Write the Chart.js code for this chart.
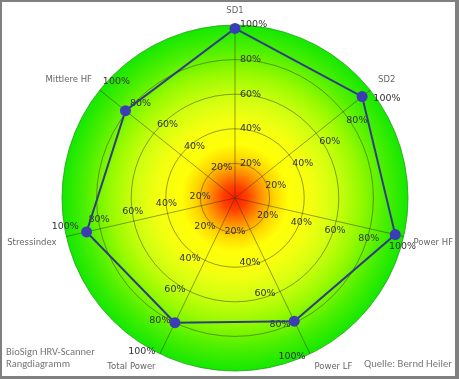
<!DOCTYPE html>
<html><head><meta charset="utf-8">
<script src="https://cdn.jsdelivr.net/npm/chart.js@4/dist/chart.umd.min.js"></script>
<style>
html,body{margin:0;padding:0;background:#fff;}
#wrap{position:relative;width:459px;height:379px;overflow:hidden;}
#frame{position:absolute;left:0;top:0;width:459px;height:379px;box-sizing:border-box;border-style:solid;border-color:#808080;border-width:2px 4px 3px 2px;pointer-events:none;}
canvas{display:block;}
</style></head><body>
<div id="wrap"><canvas id="c" width="459" height="379"></canvas><div id="frame"></div></div>
<script>
const categories = ['SD1', 'SD2', 'Power HF', 'Power LF', 'Total Power', 'Stressindex', 'Mittlere HF'];
const values = [98, 94, 95, 79, 80, 88, 81];
const tickValues = [20, 40, 60, 80, 100];
const tickLabels = ['20%', '40%', '60%', '80%', '100%'];
const footerLeft = ['BioSign HRV-Scanner', 'Rangdiagramm'];
const footerRight = 'Quelle: Bernd Heiler';

const bgPlugin = {
  id: 'bg',
  beforeDraw(chart) {
    const s = chart.scales.r, ctx = chart.ctx;
    const g = ctx.createRadialGradient(s.xCenter, s.yCenter, 0, s.xCenter, s.yCenter, s.drawingArea);
    g.addColorStop(0.00, '#ff1800');
    g.addColorStop(0.07, '#ff4000');
    g.addColorStop(0.15, '#ff9000');
    g.addColorStop(0.23, '#ffd800');
    g.addColorStop(0.31, '#ffff08');
    g.addColorStop(0.45, '#f4ff10');
    g.addColorStop(0.58, '#d0ff10');
    g.addColorStop(0.72, '#98fa00');
    g.addColorStop(0.86, '#50f000');
    g.addColorStop(1.00, '#14e800');
    ctx.save();
    ctx.beginPath();
    ctx.arc(s.xCenter, s.yCenter, s.drawingArea, 0, Math.PI * 2);
    ctx.fillStyle = g;
    ctx.fill();
    ctx.restore();
  }
};

const tickPlugin = {
  id: 'tickLabels',
  beforeDatasetsDraw(chart) {
    const s = chart.scales.r, ctx = chart.ctx;
    ctx.save();
    ctx.font = '9.5px "DejaVu Sans"';
    ctx.fillStyle = '#333';
    categories.forEach((c, i) => {
      const th = s.getIndexAngle(i);
      const px = Math.cos(th), py = Math.sin(th);
      ctx.textAlign = px > 0.5 ? 'left' : (px < -0.5 ? 'right' : 'center');
      ctx.textBaseline = py > 0.5 ? 'top' : (py < -0.5 ? 'bottom' : 'middle');
      tickValues.forEach((v, k) => {
        const p = s.getPointPosition(i, s.getDistanceFromCenterForValue(v));
        ctx.fillText(tickLabels[k], p.x + px * 5, p.y + py * 5);
      });
    });
    ctx.restore();
  },
  afterDraw(chart) {
    const s = chart.scales.r, ctx = chart.ctx;
    ctx.save();
    ctx.font = '8.5px "DejaVu Sans"';
    ctx.fillStyle = '#666';
    categories.forEach((c, i) => {
      const th = s.getIndexAngle(i);
      const sx = Math.sin(th), cy = Math.cos(th);
      const p = s.getPointPosition(i, s.drawingArea + 10);
      ctx.textAlign = Math.abs(sx) < 0.1 ? 'center' : (sx > 0 ? 'left' : 'right');
      ctx.textBaseline = cy > 0 ? 'bottom' : 'top';
      ctx.fillText(c, p.x, p.y);
    });
    ctx.font = '11px "Carlito", "Lato", sans-serif';
    ctx.fillStyle = '#777';
    ctx.textBaseline = 'middle';
    ctx.textAlign = 'left';
    ctx.fillText(footerLeft[0], 6, 352, 89);
    ctx.fillText(footerLeft[1], 6, 364, 64);
    ctx.textAlign = 'right';
    ctx.fillText(footerRight, 452, 364, 88);
    ctx.restore();
  }
};

new Chart(document.getElementById('c'), {
  type: 'radar',
  data: {
    labels: categories,
    datasets: [{
      data: values,
      borderColor: '#2e3f80',
      borderWidth: 2,
      backgroundColor: 'rgba(0,0,0,0)',
      fill: false,
      pointRadius: 5.5,
      pointBackgroundColor: '#3c3cb4',
      pointBorderColor: '#3c3cb4',
      pointBorderWidth: 0
    }]
  },
  options: {
    responsive: false,
    animation: false,
    layout: { padding: { left: 62, right: 50, top: 25, bottom: 7 } },
    plugins: { legend: { display: false }, tooltip: { enabled: false } },
    scales: {
      r: {
        min: 0, max: 100,
        ticks: { display: false, stepSize: 20 },
        pointLabels: { display: false },
        grid: {
          circular: true,
          color: (ctx) => (ctx.tick && ctx.tick.value === 100) ? '#1fa010' : 'rgba(50,50,0,0.6)',
          lineWidth: 0.8
        },
        angleLines: { color: 'rgba(50,50,0,0.6)', lineWidth: 0.8 }
      }
    }
  },
  plugins: [bgPlugin, tickPlugin]
});
</script>
</body></html>
